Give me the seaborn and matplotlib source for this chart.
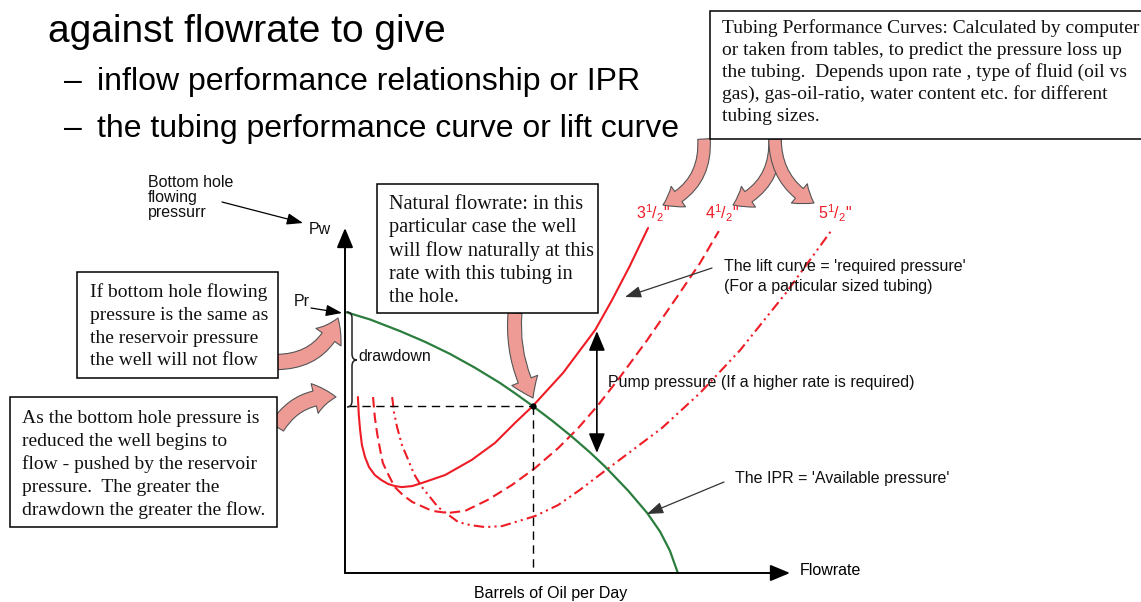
import numpy as np
import pandas as pd
import matplotlib.pyplot as plt
import seaborn as sns
from matplotlib.patches import Rectangle, FancyArrowPatch, PathPatch
from matplotlib.path import Path

# IPR (green): bottom hole flowing pressure vs flowrate
ipr_rate = [0, 5.6, 12.4, 18.0, 23.6, 29.2, 34.8, 38.2, 42.2, 46.7, 51.0, 55.1, 58.4,
            63.6, 67.9, 70.8, 73.0, 74.8]
ipr_pw = [75.7, 73.5, 70.1, 67.0, 63.5, 59.5, 55.1, 52.1, 48.4, 44.0, 39.5, 34.9, 30.9,
          23.9, 17.4, 12.0, 6.5, 0]

# lift curves for the three tubing sizes
rate_35 = [2.9, 3.1, 3.4, 3.8, 4.5, 5.4, 6.7, 8.1, 9.7, 11.2, 12.8, 15.1, 17.3, 22.5, 28.5,
           33.7, 38.2, 42.2, 49.0, 56.2, 60.0, 64.0, 68.1]
pw_35 = [51.0, 45.8, 41.4, 37.1, 33.6, 30.7, 28.4, 27.0, 25.8, 25.2, 24.9, 25.2, 26.1, 28.4, 32.8,
         37.7, 43.5, 48.4, 58.0, 70.4, 79.1, 89.0, 100.0]
rate_45 = [6.3, 6.7, 7.2, 7.9, 8.5, 9.9, 11.2, 13.0, 15.1, 19.6, 23.1, 27.0, 32.1, 37.5, 42.7,
           47.9, 52.4, 56.9, 61.8, 67.9, 74.6, 79.8, 84.0]
pw_45 = [51.0, 45.2, 40.6, 35.7, 31.9, 28.1, 24.9, 22.6, 20.6, 18.0, 17.4, 18.0, 21.2, 25.5, 30.4,
         36.2, 42.0, 48.7, 56.8, 67.5, 80.0, 89.9, 99.1]
rate_55 = [10.6, 11.0, 11.7, 12.8, 14.2, 15.5, 17.3, 19.1, 20.9, 25.4, 28.1, 31.5, 35.3, 42.7,
           47.9, 52.8, 58.4, 64.7, 71.2, 79.8, 88.8, 99.1, 109.2]
pw_55 = [51.0, 46.7, 42.3, 37.1, 32.8, 28.7, 24.9, 22.0, 19.1, 14.8, 13.9, 13.3, 13.6, 16.5,
         19.7, 24.1, 29.6, 35.7, 42.0, 52.2, 64.6, 81.2, 99.1]
tubing_names = ['3 1/2', '4 1/2', '5 1/2']
tubing_labels = [r'3$^{1}$/$_{2}$"', r'4$^{1}$/$_{2}$"', r'5$^{1}$/$_{2}$"']

# natural flowrate (intersection) and pump pressure span
nat_rate, nat_pw = 42.2, 48.4
pump_rate, pump_top, pump_bottom = 56.6, 70.1, 34.8

RED = '#ee1c25'
GREEN = '#2b7d3e'
PINK = '#ee9b95'
W, H = 1141, 602

sns.set_style('white')
plt.rcParams['font.family'] = ['Liberation Sans', 'DejaVu Sans']
plt.rcParams['text.color'] = 'black'
plt.rcParams['mathtext.fontset'] = 'custom'
plt.rcParams['mathtext.rm'] = 'Liberation Sans'
plt.rcParams['mathtext.it'] = 'Liberation Sans'

def fp(x, y):
    # picture pixel (from top-left) -> figure fraction
    return (x / W, 1 - y / H)

fig = plt.figure(figsize=(W / 100, H / 100), dpi=100)
ax = fig.add_axes([345 / W, 1 - 573 / H, 445 / W, 345 / H])
ax.set_xlim(0, 100)
ax.set_ylim(0, 100)
ax.axis('off')

tubing = pd.concat([
    pd.DataFrame({'rate': r, 'pw': p, 'tubing': n})
    for r, p, n in zip([rate_35, rate_45, rate_55], [pw_35, pw_45, pw_55], tubing_names)
])
sns.lineplot(data=tubing, x='rate', y='pw', style='tubing',
             dashes={'3 1/2': '', '4 1/2': (5, 2.5), '5 1/2': (5, 2, 1, 2, 1, 2)},
             color=RED, lw=1.5, estimator=None, sort=False, legend=False, ax=ax)
sns.lineplot(x=ipr_rate, y=ipr_pw, color=GREEN, lw=1.6, sort=False, estimator=None, ax=ax)
for ln in ax.lines:
    ln.set_clip_on(False)
    ln.set_solid_joinstyle('round')
    ln.set_dash_joinstyle('round')

# axes arrows
arrow_kw = dict(arrowstyle='-|>,head_length=0.6,head_width=0.25', color='black', lw=1.4,
                mutation_scale=20, shrinkA=0, shrinkB=0)
ax.annotate('', xy=(0, 100), xytext=(0, 0), arrowprops=arrow_kw, annotation_clip=False)
ax.annotate('', xy=(100, 0), xytext=(0, 0), arrowprops=arrow_kw, annotation_clip=False)

# natural flowrate guides
ax.plot([0.7, nat_rate], [nat_pw, nat_pw], color='black', lw=1, dashes=(6, 4), clip_on=False)
ax.plot([nat_rate, nat_rate], [nat_pw, 0], color='black', lw=1, dashes=(6, 4), clip_on=False)
ax.plot([nat_rate], [nat_pw], 'o', color='black', ms=3.5)

# pump pressure double arrow
ax.annotate('', xy=(pump_rate, pump_bottom), xytext=(pump_rate, pump_top),
            arrowprops=dict(arrowstyle='<|-|>,head_length=0.6,head_width=0.25', color='black',
                            lw=1.2, mutation_scale=20, shrinkA=0, shrinkB=0))

# drawdown brace
bx = [(347, 312), (352, 312), (352, 318), (352, 354), (352, 360), (357, 360),
      (352, 360), (352, 366), (352, 401), (352, 407), (347, 407)]
codes = [Path.MOVETO, Path.CURVE3, Path.CURVE3, Path.LINETO, Path.CURVE3, Path.CURVE3,
         Path.CURVE3, Path.CURVE3, Path.LINETO, Path.CURVE3, Path.CURVE3]
fig.add_artist(PathPatch(Path([fp(*v) for v in bx], codes), fc='none', ec='#222', lw=1.1,
                         transform=fig.transFigure))

# slide title
fig.text(*fp(48, 42), 'against flowrate to give', fontsize=28, va='baseline')
for yb, txt in [(90, 'inflow performance relationship or IPR'),
                (137, 'the tubing performance curve or lift curve')]:
    fig.text(*fp(64, yb), '\u2013', fontsize=23, va='baseline')
    fig.text(*fp(97, yb), txt, fontsize=23, va='baseline')

# sans labels
lab = dict(fontsize=11.5, va='baseline', color='#111')
for i, t in enumerate(['Bottom hole', 'flowing', 'pressurr']):
    fig.text(*fp(148, 187 + 15 * i), t, **lab)
fig.text(*fp(309, 234), 'Pw', **lab)
fig.text(*fp(294, 306), 'Pr', **lab)
fig.text(*fp(358, 361), 'drawdown', **lab)
fig.text(*fp(608, 387), 'Pump pressure (If a higher rate is required)', **lab)
fig.text(*fp(724, 271), "The lift curve = 'required pressure'", **lab)
fig.text(*fp(724, 291), '(For a particular sized tubing)', **lab)
fig.text(*fp(735, 483), "The IPR = 'Available pressure'", **lab)
fig.text(*fp(800, 575), 'Flowrate', fontsize=11.5, va='baseline')
fig.text(*fp(551, 598), 'Barrels of Oil per Day', fontsize=11.5, va='baseline', ha='center')
for xl, t in zip([636, 705, 818], tubing_labels):
    fig.text(*fp(xl, 219), t, fontsize=11.5, va='baseline', color=RED)

# thin pointer arrows
def pointer(p0, p1, col='black'):
    ax.annotate('', xy=fp(*p1), xycoords='figure fraction', xytext=fp(*p0),
                textcoords='figure fraction', annotation_clip=False,
                arrowprops=dict(arrowstyle='-|>,head_length=0.7,head_width=0.25', color=col,
                                lw=0.9, mutation_scale=14, shrinkA=0, shrinkB=0))

pointer((222, 202), (303, 223))
pointer((311, 308), (342, 313))
pointer((712, 268), (625, 297), '#333')
pointer((724, 482), (647, 514), '#333')

# pink block arrows
def block(p0, p1, rad, scale=10):
    fig.add_artist(FancyArrowPatch(fp(*p0), fp(*p1), transform=fig.transFigure,
                                   connectionstyle=f'arc3,rad={rad}',
                                   arrowstyle='simple,head_length=1.4,head_width=2.0,tail_width=1.0',
                                   mutation_scale=scale, fc=PINK, ec='#555', lw=0.8,
                                   shrinkA=0, shrinkB=0, zorder=3))

block((704, 139), (663, 205), -0.35, 9)
block((775, 139), (733, 205), -0.35, 9)
block((775, 139), (814, 203), 0.3, 9)
block((515, 313), (533, 398), 0.15, 10)
block((277, 362), (338, 318), 0.35, 11)
block((277, 427), (336, 397), -0.3, 11)

# serif text boxes
def box(x0, y0, x1, y1, tx, yb, dy, lines, size=14):
    fig.add_artist(Rectangle(fp(x0, y1), (x1 - x0) / W, (y1 - y0) / H, transform=fig.transFigure,
                             fc='white', ec='black', lw=1.1, zorder=4))
    for i, t in enumerate(lines):
        fig.text(*fp(tx, yb + dy * i), t, fontsize=size, family='Liberation Serif',
                 va='baseline', color='#111', zorder=5)

box(710, 11, 1150, 139, 722, 33, 22,
    ['Tubing Performance Curves: Calculated by computer',
     'or taken from tables, to predict the pressure loss up',
     'the tubing.  Depends upon rate , type of fluid (oil vs',
     'gas), gas-oil-ratio, water content etc. for different',
     'tubing sizes.'])
box(377, 184, 598, 313, 389, 209, 23.3,
    ['Natural flowrate: in this', 'particular case the well', 'will flow naturally at this',
     'rate with this tubing in', 'the hole.'], 14.6)
box(77, 272, 278, 378, 90, 297, 22.8,
    ['If bottom hole flowing', 'pressure is the same as', 'the reservoir pressure',
     'the well will not flow'])
box(10, 397, 277, 527, 22, 423, 22.9,
    ['As the bottom hole pressure is', 'reduced the well begins to',
     'flow - pushed by the reservoir', 'pressure.  The greater the',
     'drawdown the greater the flow.'])

fig.savefig('out.png', dpi=100)
